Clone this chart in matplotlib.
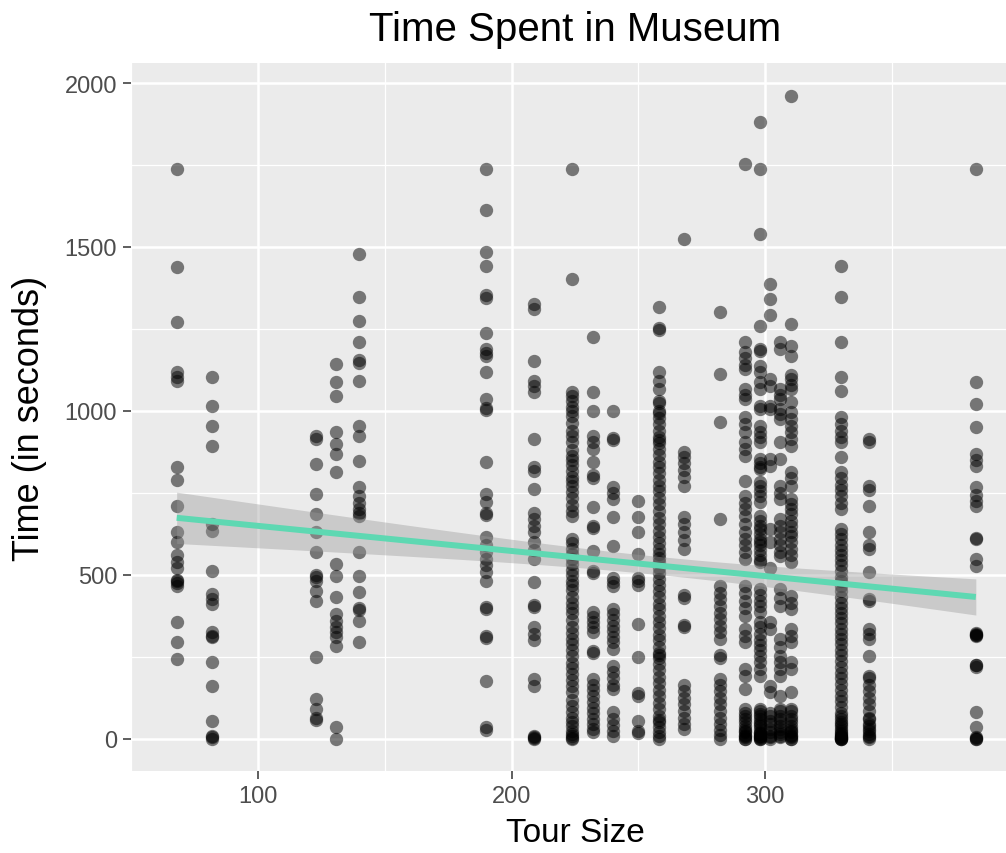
import numpy as np
import matplotlib
matplotlib.use("Agg")
import matplotlib.pyplot as plt

plt.rcParams["font.family"] = ["Liberation Sans", "DejaVu Sans"]
plt.rcParams["xtick.major.pad"] = 4.4
plt.rcParams["ytick.major.pad"] = 4.4

# Time spent (seconds) by visitors, grouped by tour size
t68 = [1738, 1440, 1270, 1120, 1105, 1090, 830, 790, 710, 630, 600, 560, 540, 520,
       485, 480, 475, 465, 355, 295, 245]
t82 = [1104, 1015, 955, 893, 655, 634, 512, 442, 427, 412, 325, 315, 310, 235, 162,
       55, 10, 5, 0]
t123 = [925, 915, 838, 747, 686, 631, 570, 500, 495, 482, 451, 421, 250, 122, 91, 65, 58]
t131 = [1143, 1088, 1046, 936, 900, 870, 814, 534, 497, 433, 380, 360, 340, 325, 310,
        284, 37, 0]
t140 = [1479, 1348, 1274, 1210, 1155, 1145, 1091, 954, 924, 848, 768, 740, 720, 700,
        690, 680, 570, 497, 448, 400, 392, 360, 296]
t190 = [1738, 1613, 1485, 1442, 1355, 1345, 1238, 1189, 1178, 1168, 1119, 1037, 1010,
        1002, 845, 747, 722, 690, 682, 616, 590, 570, 550, 530, 510, 482, 402, 396,
        314, 308, 177, 35, 28]
t209 = [1326, 1311, 1152, 1091, 1075, 1058, 915, 828, 818, 762, 690, 670, 650, 630,
        600, 575, 550, 479, 408, 402, 340, 320, 300, 183, 162, 10, 6, 3, 0]
t224 = [1738, 1402, 1058, 1045, 1030, 1012, 1000, 985, 962, 940, 925, 905, 880, 862,
        850, 835, 818, 800, 785, 770, 752, 735, 712, 695, 680, 610, 598, 580, 565,
        548, 532, 515, 500, 482, 470, 455, 432, 415, 400, 385, 362, 340, 322, 305,
        290, 270, 252, 232, 215, 198, 180, 160, 142, 120, 100, 82, 65, 50, 38, 25,
        15, 8, 3, 0]
t232 = [1226, 1058, 1000, 925, 905, 884, 845, 805, 795, 707, 650, 642, 573, 512, 505,
        387, 372, 355, 340, 326, 268, 262, 183, 165, 148, 130, 112, 95, 78, 60, 45,
        30, 21]
t240 = [1000, 918, 910, 768, 750, 732, 677, 588, 490, 478, 466, 396, 380, 362, 345,
        330, 312, 295, 274, 223, 205, 185, 165, 152, 82, 62, 42, 25, 9]
t250 = [726, 677, 631, 564, 490, 480, 470, 351, 250, 140, 132, 55, 24, 18]
t258 = [1317, 1253, 1247, 1119, 1091, 1067, 1030, 1024, 1000, 995, 978, 960, 940, 922,
        910, 902, 885, 865, 845, 828, 810, 790, 772, 755, 735, 715, 695, 672, 655,
        635, 615, 598, 580, 565, 552, 540, 522, 505, 488, 470, 450, 432, 412, 395,
        375, 355, 338, 318, 300, 280, 262, 255, 248, 228, 210, 190, 170, 150, 130,
        110, 90, 70, 58, 50, 35, 20, 8, 0]
t268 = [1524, 875, 858, 840, 820, 800, 771, 677, 655, 630, 605, 579, 440, 430, 348,
        340, 165, 145, 125, 105, 85, 65, 45, 30]
t282 = [1302, 1113, 966, 671, 466, 445, 425, 405, 385, 365, 345, 325, 305, 255, 248,
        183, 165, 145, 125, 105, 85, 65, 45, 28, 12, 0]
t292 = [1753, 1210, 1180, 1160, 1140, 1128, 1067, 1050, 1037, 982, 960, 936, 905, 885,
        863, 787, 741, 720, 700, 680, 655, 631, 610, 590, 570, 549, 466, 445, 420,
        400, 375, 335, 315, 296, 213, 192, 152, 91, 80, 70, 60, 50, 40, 30, 25, 20,
        12, 8, 5, 0, 0]
t298 = [1881, 1738, 1540, 1259, 1189, 1183, 1137, 1119, 1088, 1067, 1015, 1006, 954,
        935, 920, 905, 854, 840, 830, 823, 783, 770, 755, 740, 722, 680, 665, 650,
        640, 625, 610, 600, 590, 575, 560, 545, 540, 457, 440, 420, 405, 387, 357,
        340, 320, 300, 285, 270, 253, 235, 212, 192, 91, 85, 75, 70, 60, 50, 45, 40,
        30, 22, 18, 15, 10, 8, 5, 3, 0, 0]
t302 = [1387, 1341, 1293, 1097, 1076, 1015, 1006, 854, 832, 640, 600, 520, 357, 335,
        162, 143, 80, 70, 55, 45, 30, 20, 10, 5, 0]
t306 = [1210, 1190, 1067, 1050, 1037, 1006, 990, 976, 905, 854, 771, 750, 732, 671,
        650, 630, 610, 590, 570, 558, 457, 430, 405, 305, 280, 253, 235, 212, 192,
        131, 91, 85, 70, 60, 50, 40, 30, 20, 15, 10, 5]
t310 = [1960, 1265, 1198, 1168, 1110, 1097, 1080, 1067, 1027, 997, 975, 954, 936, 915,
        893, 814, 795, 771, 732, 715, 700, 685, 665, 650, 631, 620, 600, 580, 560,
        540, 436, 415, 396, 335, 315, 296, 235, 213, 143, 91, 85, 70, 60, 50, 40, 30,
        25, 20, 12, 9, 5, 0, 0]
t330 = [1442, 1348, 1210, 1104, 1061, 982, 960, 940, 920, 905, 860, 814, 795, 775,
        760, 740, 720, 701, 640, 625, 610, 592, 575, 560, 545, 530, 512, 495, 480,
        465, 450, 432, 415, 400, 385, 370, 352, 335, 320, 305, 288, 270, 255, 238,
        220, 202, 185, 168, 150, 132, 115, 98, 80, 70, 62, 50, 45, 40, 30, 25, 18,
        15, 10, 8, 5, 3, 2, 0, 0, 0]
t341 = [915, 905, 771, 760, 710, 631, 590, 580, 509, 427, 420, 335, 320, 305, 253,
        192, 185, 165, 145, 125, 105, 85, 65, 60, 45, 40, 30, 25, 15, 8, 5, 0]
t383 = [1738, 1088, 1021, 951, 869, 850, 832, 768, 745, 725, 710, 613, 608, 549, 527,
        322, 320, 318, 316, 315, 225, 225, 220, 82, 37, 5, 3, 0, 0]

tour_sizes = [68, 82, 123, 131, 140, 190, 209, 224, 232, 240, 250, 258, 268, 282,
              292, 298, 302, 306, 310, 330, 341, 383]
groups = [t68, t82, t123, t131, t140, t190, t209, t224, t232, t240, t250, t258, t268,
          t282, t292, t298, t302, t306, t310, t330, t341, t383]

x = np.concatenate([np.full(len(g), s, dtype=float) for s, g in zip(tour_sizes, groups)])
y = np.concatenate([np.asarray(g, dtype=float) for g in groups])

# Linear fit with 95% confidence band
n = len(x)
slope, intercept = np.polyfit(x, y, 1)
resid = y - (intercept + slope * x)
sigma = np.sqrt(np.sum(resid ** 2) / (n - 2))
xbar = x.mean()
sxx = np.sum((x - xbar) ** 2)
xs = np.linspace(x.min(), x.max(), 200)
fit = intercept + slope * xs
half = 1.96 * sigma * np.sqrt(1.0 / n + (xs - xbar) ** 2 / sxx)

W, H = 1006, 854
fig = plt.figure(figsize=(W / 100, H / 100), dpi=100)
ax = fig.add_axes([131 / W, 82 / H, 875 / W, 708 / H])
ax.set_facecolor("#EBEBEB")
for s in ax.spines.values():
    s.set_visible(False)

ax.set_xlim(51.7, 394.9)
ax.set_ylim(-98, 2061)
ax.set_xticks([100, 200, 300])
ax.set_yticks([0, 500, 1000, 1500, 2000])
ax.set_xticks([50, 150, 250, 350], minor=True)
ax.set_yticks([250, 750, 1250, 1750], minor=True)
ax.grid(True, which="major", color="white", linewidth=1.8)
ax.grid(True, which="minor", color="white", linewidth=0.9)
ax.set_axisbelow(True)
ax.tick_params(which="major", length=5.5, width=1.1, color="#333333",
               labelsize=17, labelcolor="#4D4D4D")
ax.tick_params(which="minor", length=0)

ax.scatter(x, y, s=92, color="black", alpha=0.5, linewidths=0, zorder=2)
ax.fill_between(xs, fit - half, fit + half, color="#999999", alpha=0.4,
                linewidth=0, zorder=3)
ax.plot(xs, fit, color="#5ED8B2", linewidth=4.3, zorder=4,
        solid_capstyle="butt")

cx = 575
ax.set_xlabel("Tour Size", fontsize=24)
ax.set_ylabel("Time (in seconds)", fontsize=26)
ax.xaxis.set_label_coords((cx - 131) / 875, (854 - 834 - 82) / 708)
ax.xaxis.label.set_va("center")
ax.yaxis.set_label_coords((30 - 131) / 875, 0.5)
ax.yaxis.label.set_va("center")
fig.text(cx / W, 1 - 30 / H, "Time Spent in Museum",
         ha="center", va="center", fontsize=29)

fig.savefig("out.png", dpi=100)
